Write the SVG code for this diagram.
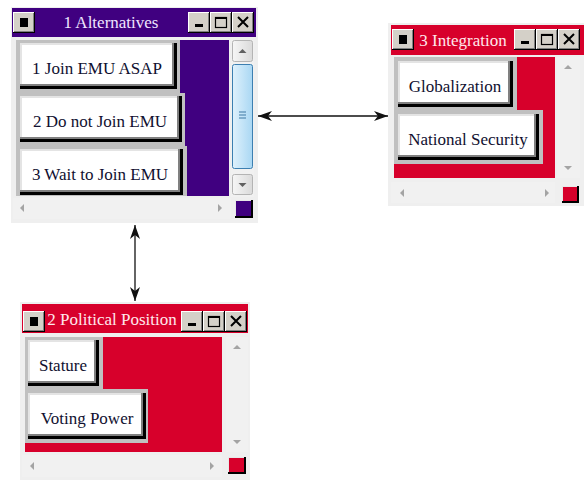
<svg xmlns="http://www.w3.org/2000/svg" xmlns:xlink="http://www.w3.org/1999/xlink" width="584" height="497" viewBox="0 0 584 497" font-family="'Liberation Serif', 'DejaVu Serif', serif">
  <style>
    .frame { fill: #efefef; }
    .track { fill: #f1f1f1; }
    .purple { fill: #400080; }
    .red { fill: #d7002b; }
    .well { fill: #c0c0c0; }
    .bk { fill: #000000; }
    .gy { fill: #808080; }
    .lt { fill: #e4e4e4; }
    .wh { fill: #ffffff; }
    text { font-family: 'Liberation Serif', 'DejaVu Serif', serif; font-size: 17px; }
    .title { text-anchor: middle; }
    .title-p { fill: #efe6ff; }
    .title-r { fill: #ffe8ec; }
    .btn { fill: #101030; text-anchor: middle; }
    .arr { fill: #a4a4a4; }
    .conn { stroke: #111111; stroke-width: 1.3; fill: none; }
  </style>
  <defs>
    <!-- classic caption button face, 22x21 -->
    <g id="cap">
      <rect x="0" y="0" width="22" height="21" fill="#000"/>
      <rect x="0" y="0" width="21" height="20" fill="#fff"/>
      <rect x="1" y="1" width="20" height="19" fill="#808080"/>
      <rect x="1" y="1" width="19" height="18" fill="#d4d0c8"/>
    </g>
    <g id="capIcon"><use href="#cap"/><rect x="7" y="6" width="8" height="9" fill="#000"/></g>
    <g id="capMin"><use href="#cap"/><rect x="7" y="12" width="8" height="3" fill="#000"/></g>
    <g id="capMax"><use href="#cap"/><rect x="5.5" y="5.5" width="11" height="10" fill="none" stroke="#000" stroke-width="1.2"/><rect x="5" y="5" width="12" height="2" fill="#000"/></g>
    <g id="capClose"><use href="#cap"/><path d="M6,5 L16,15 M16,5 L6,15" stroke="#000" stroke-width="2"/></g>
    <!-- scroll arrows -->
    <path id="aUp" d="M-4,2 L4,2 L0,-2 z"/>
    <path id="aDown" d="M-4,-2 L4,-2 L0,2 z"/>
    <path id="aLeft" d="M2,-4 L2,4 L-2,0 z"/>
    <path id="aRight" d="M-2,-4 L-2,4 L2,0 z"/>
    <linearGradient id="sbBtn" x1="0" y1="0" x2="1" y2="0">
      <stop offset="0" stop-color="#f6f6f6"/>
      <stop offset="1" stop-color="#dadada"/>
    </linearGradient>
    <linearGradient id="thumb" x1="0" y1="0" x2="1" y2="0">
      <stop offset="0" stop-color="#dff1fc"/>
      <stop offset="1" stop-color="#a9d7f3"/>
    </linearGradient>
    <marker id="arrow" viewBox="0 0 14 10" refX="14" refY="5" markerWidth="14" markerHeight="10" markerUnits="userSpaceOnUse" orient="auto-start-reverse">
      <path d="M0,0 L14,5 L0,10 L4,5 z" fill="#111"/>
    </marker>
  </defs>

  <!-- window: 1 Alternatives -->
  <g id="node-alternatives">
    <rect class="frame" x="11" y="7" width="247" height="216"/>
    <rect class="purple" x="12" y="8" width="244" height="29"/>
    <use href="#capIcon" x="13" y="12"/>
    <use href="#capMin" x="188" y="12"/>
    <use href="#capMax" x="210" y="12"/>
    <use href="#capClose" x="232" y="12"/>
    <text class="title title-p" x="111" y="28">1 Alternatives</text>

    <rect class="purple" x="16" y="40" width="213" height="156"/>
    <rect class="well" x="16" y="40" width="164" height="53"/>
    <rect class="well" x="16" y="93" width="169" height="53"/>
    <rect class="well" x="16" y="146" width="171" height="50"/>

    <g id="alt-1">
      <rect class="bk" x="20" y="43" width="157" height="46"/>
      <rect class="gy" x="20" y="43" width="154" height="43"/>
      <rect class="lt" x="20" y="43" width="152" height="41"/>
      <rect class="wh" x="22" y="45" width="150" height="39"/>
      <text class="btn" x="97" y="74">1 Join EMU ASAP</text>
    </g>
    <g id="alt-2">
      <rect class="bk" x="20" y="96" width="162" height="46"/>
      <rect class="gy" x="20" y="96" width="159" height="43"/>
      <rect class="lt" x="20" y="96" width="157" height="41"/>
      <rect class="wh" x="22" y="98" width="155" height="39"/>
      <text class="btn" x="100" y="127">2 Do not Join EMU</text>
    </g>
    <g id="alt-3">
      <rect class="bk" x="20" y="149" width="163" height="46"/>
      <rect class="gy" x="20" y="149" width="160" height="43"/>
      <rect class="lt" x="20" y="149" width="158" height="41"/>
      <rect class="wh" x="22" y="151" width="156" height="39"/>
      <text class="btn" x="100" y="180">3 Wait to Join EMU</text>
    </g>

    <!-- vertical scrollbar -->
    <rect class="track" x="231" y="40" width="23" height="157"/>
    <rect x="232.5" y="40.5" width="20" height="21" rx="2" fill="url(#sbBtn)" stroke="#b4b4b4"/>
    <use href="#aUp" x="242.5" y="51" fill="#606060"/>
    <rect x="232.5" y="64.5" width="20" height="104" rx="2" fill="url(#thumb)" stroke="#3c7fb1"/>
    <path d="M239,112 H246 M239,115 H246 M239,118 H246" stroke="#3e78a3" stroke-width="1.2"/>
    <rect x="232.5" y="174.5" width="20" height="20" rx="2" fill="url(#sbBtn)" stroke="#b4b4b4"/>
    <use href="#aDown" x="242.5" y="185" fill="#606060"/>
    <!-- horizontal scrollbar -->
    <rect class="track" x="13" y="198" width="218" height="21"/>
    <use class="arr" href="#aLeft" x="22" y="208"/>
    <use class="arr" href="#aRight" x="220" y="208"/>
    <rect x="235" y="200" width="18" height="18" fill="#000"/>
    <rect x="235" y="200" width="16" height="16" fill="#e8e8e8"/>
    <rect class="purple" x="236" y="201" width="15" height="15"/>
  </g>

  <!-- window: 3 Integration -->
  <g id="node-integration">
    <rect class="frame" x="388" y="23" width="196" height="183"/>
    <rect class="red" x="391" y="25" width="193" height="30"/>
    <use href="#capIcon" x="392" y="29"/>
    <use href="#capMin" x="514" y="29"/>
    <use href="#capMax" x="536" y="29"/>
    <use href="#capClose" x="558" y="29"/>
    <text class="title title-r" x="463" y="46">3 Integration</text>

    <rect class="red" x="394" y="57" width="161" height="121"/>
    <rect class="well" x="394" y="57" width="123" height="53"/>
    <rect class="well" x="394" y="110" width="149" height="54"/>

    <g id="int-1">
      <rect class="bk" x="398" y="61" width="115" height="46"/>
      <rect class="gy" x="398" y="61" width="112" height="43"/>
      <rect class="lt" x="398" y="61" width="110" height="41"/>
      <rect class="wh" x="400" y="63" width="108" height="39"/>
      <text class="btn" x="455" y="92">Globalization</text>
    </g>
    <g id="int-2">
      <rect class="bk" x="398" y="114" width="141" height="46"/>
      <rect class="gy" x="398" y="114" width="138" height="43"/>
      <rect class="lt" x="398" y="114" width="136" height="41"/>
      <rect class="wh" x="400" y="116" width="134" height="39"/>
      <text class="btn" x="468" y="145">National Security</text>
    </g>

    <rect class="track" x="557" y="57" width="23" height="121"/>
    <use class="arr" href="#aUp" x="568" y="67"/>
    <use class="arr" href="#aDown" x="568" y="168"/>
    <rect class="track" x="391" y="182" width="164" height="21"/>
    <use class="arr" href="#aLeft" x="402" y="193"/>
    <use class="arr" href="#aRight" x="547" y="193"/>
    <rect x="562" y="186" width="17" height="17" fill="#000"/>
    <rect x="562" y="186" width="15" height="15" fill="#e8e8e8"/>
    <rect class="red" x="563" y="187" width="14" height="14"/>
  </g>

  <!-- window: 2 Political Position -->
  <g id="node-political">
    <rect class="frame" x="20" y="302" width="230" height="178"/>
    <rect class="red" x="22" y="304" width="226" height="29"/>
    <use href="#capIcon" x="23" y="311"/>
    <use href="#capMin" x="181" y="311"/>
    <use href="#capMax" x="203" y="311"/>
    <use href="#capClose" x="225" y="311"/>
    <text class="title title-r" x="112" y="325">2 Political Position</text>

    <rect class="red" x="25" y="337" width="197" height="115"/>
    <rect class="well" x="25" y="337" width="78" height="52"/>
    <rect class="well" x="25" y="389" width="123" height="54"/>

    <g id="pol-1">
      <rect class="bk" x="28" y="340" width="71" height="46"/>
      <rect class="gy" x="28" y="340" width="68" height="43"/>
      <rect class="lt" x="28" y="340" width="66" height="41"/>
      <rect class="wh" x="30" y="342" width="64" height="39"/>
      <text class="btn" x="63" y="371">Stature</text>
    </g>
    <g id="pol-2">
      <rect class="bk" x="28" y="393" width="118" height="46"/>
      <rect class="gy" x="28" y="393" width="115" height="43"/>
      <rect class="lt" x="28" y="393" width="113" height="41"/>
      <rect class="wh" x="30" y="395" width="111" height="39"/>
      <text class="btn" x="87" y="424">Voting Power</text>
    </g>

    <rect class="track" x="226" y="337" width="22" height="115"/>
    <use class="arr" href="#aUp" x="237" y="347"/>
    <use class="arr" href="#aDown" x="237" y="442"/>
    <rect class="track" x="22" y="455" width="200" height="22"/>
    <use class="arr" href="#aLeft" x="32" y="466"/>
    <use class="arr" href="#aRight" x="212" y="466"/>
    <rect x="228" y="457" width="18" height="17" fill="#000"/>
    <rect x="228" y="457" width="16" height="15" fill="#e8e8e8"/>
    <rect class="red" x="229" y="458" width="15" height="14"/>
  </g>

  <!-- links between windows -->
  <g id="connectors">
    <line class="conn" x1="258" y1="116" x2="388" y2="116" marker-start="url(#arrow)" marker-end="url(#arrow)"/>
    <line class="conn" x1="135" y1="225" x2="135" y2="301" marker-start="url(#arrow)" marker-end="url(#arrow)"/>
  </g>
</svg>
